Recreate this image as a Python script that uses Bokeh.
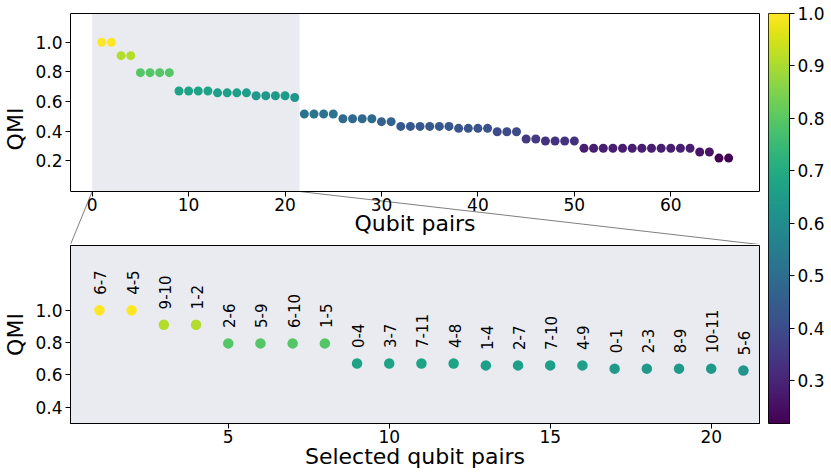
import numpy as np
from bokeh.plotting import figure
from bokeh.models import (Range1d, FixedTicker, LinearColorMapper, BoxAnnotation,
                          ColumnDataSource, LinearAxis, PrintfTickFormatter)
from bokeh.transform import transform
from bokeh.core.properties import value
from bokeh.palettes import Viridis256
from bokeh.layouts import row, column
from bokeh.embed import file_html
from bokeh.resources import INLINE

# ---------------- data ----------------
qmi = [1.0, 1.0, 0.91, 0.91, 0.795, 0.795, 0.795, 0.795,
       0.671, 0.671, 0.671, 0.671, 0.659, 0.659, 0.659, 0.659,
       0.639, 0.639, 0.639, 0.639, 0.627,
       0.516, 0.516, 0.516, 0.516, 0.484, 0.484, 0.484, 0.484,
       0.464, 0.464,
       0.432, 0.432, 0.432, 0.432, 0.432, 0.432,
       0.419, 0.419, 0.419, 0.419,
       0.396, 0.396, 0.396,
       0.347, 0.347,
       0.333, 0.333, 0.333, 0.333,
       0.284, 0.284, 0.284, 0.284, 0.284, 0.284, 0.284, 0.284, 0.284, 0.284, 0.284, 0.284,
       0.259, 0.259,
       0.218, 0.218]
pair_labels = ["6-7", "4-5", "9-10", "1-2", "2-6", "5-9", "6-10", "1-5", "0-4", "3-7",
               "7-11", "4-8", "1-4", "2-7", "7-10", "4-9", "0-1", "2-3", "8-9", "10-11", "5-6"]
n_selected = 21
top_xticks = [0, 10, 20, 30, 40, 50, 60]
top_yticks = [0.2, 0.4, 0.6, 0.8, 1.0]
bot_xticks = [5, 10, 15, 20]
bot_yticks = [0.4, 0.6, 0.8, 1.0]
cb_ticks = [0.3, 0.4, 0.5, 0.6, 0.7, 0.8, 0.9, 1.0]

FONT = "DejaVu Sans"
SHADE = "#eaebf1"

idx = list(range(1, len(qmi) + 1))
low, high = min(qmi), max(qmi)
mapper = LinearColorMapper(palette=Viridis256, low=low, high=high)

src_all = ColumnDataSource(dict(x=idx, qmi=qmi))
sel_x = idx[:n_selected]
sel_q = qmi[:n_selected]
src_sel = ColumnDataSource(dict(x=sel_x, qmi=sel_q, lab=pair_labels,
                                ly=[q + 0.095 for q in sel_q]))


def style_axis(ax):
    ax.major_label_text_font = FONT
    ax.major_label_text_font_size = "17px"
    ax.major_label_text_color = "black"
    ax.axis_label_text_font = FONT
    ax.axis_label_text_font_size = "22px"
    ax.axis_label_text_font_style = "normal"
    ax.axis_label_text_color = "black"
    ax.major_tick_out = 5
    ax.major_tick_in = 0
    ax.minor_tick_line_color = None
    ax.axis_line_color = "black"
    ax.major_tick_line_color = "black"


def bare_axis(ax):
    ax.ticker = FixedTicker(ticks=[])
    ax.major_tick_out = 0
    ax.major_tick_in = 0
    ax.minor_tick_line_color = None
    ax.major_label_standoff = 0
    ax.axis_label_standoff = 0
    ax.axis_line_color = "black"


# ---------------- top panel ----------------
# visible panel: 178 px high; the frame continues 53 px below it so that the
# connector lines to the zoom panel can be drawn
PANEL_H, BELOW = 178, 53
y0, y1 = -0.008, 1.195
y_frame_start = y0 - (y1 - y0) * BELOW / PANEL_H
xr_top = Range1d(-2.25, 69.2)
top = figure(width=760, height=13 + PANEL_H + BELOW, x_range=xr_top,
             y_range=Range1d(y_frame_start, y1), output_backend="svg",
             toolbar_location=None, min_border_left=68, min_border_right=1,
             min_border_top=13, min_border_bottom=0)
top.grid.visible = False
top.outline_line_color = None
top.border_fill_color = "white"
style_axis(top.xaxis[0])
style_axis(top.yaxis[0])
top.xaxis.fixed_location = y0
top.xaxis.axis_label = "Qubit pairs"
top.xaxis.ticker = FixedTicker(ticks=top_xticks)
top.xaxis.major_label_standoff = 1
top.xaxis.axis_label_standoff = -3
top.yaxis.axis_label = "QMI"
top.yaxis.ticker = FixedTicker(ticks=top_yticks)
top.yaxis.formatter = PrintfTickFormatter(format="%.1f")
top.yaxis.bounds = (y0, y1)
top.yaxis.major_label_standoff = 3
top.yaxis.axis_label_standoff = 4
ax_r = LinearAxis(bounds=(y0, y1))
bare_axis(ax_r)
top.add_layout(ax_r, "right")
ax_t = LinearAxis()
bare_axis(ax_t)
top.add_layout(ax_t, "above")

top.add_layout(BoxAnnotation(left=0, right=n_selected + 0.5, bottom=y0,
                             fill_color=SHADE, fill_alpha=1.0, line_color=None,
                             level="underlay"))
top.scatter("x", "qmi", source=src_all, size=9, line_color=None,
            fill_color=transform("qmi", mapper))
# connector lines: shaded span corners -> zoom panel corners
top.segment(x0=[0, n_selected + 0.5], y0=[y0, y0],
            x1=[xr_top.start, xr_top.end], y1=[y_frame_start, y_frame_start],
            line_color="#7f7f7f", line_width=1)

# ---------------- bottom (zoom) panel ----------------
bot = figure(width=760, height=232, x_range=Range1d(0.1, 21.5),
             y_range=Range1d(0.3, 1.4), output_backend="svg",
             toolbar_location=None, min_border_left=68, min_border_right=1,
             min_border_top=1, min_border_bottom=53)
bot.grid.visible = False
bot.outline_line_color = "black"
bot.border_fill_color = "white"
bot.background_fill_color = SHADE
style_axis(bot.xaxis[0])
style_axis(bot.yaxis[0])
bot.xaxis.axis_label = "Selected qubit pairs"
bot.yaxis.axis_label = "QMI"
bot.xaxis.ticker = FixedTicker(ticks=bot_xticks)
bot.yaxis.ticker = FixedTicker(ticks=bot_yticks)
bot.yaxis.formatter = PrintfTickFormatter(format="%.1f")
bot.xaxis.major_label_standoff = 1
bot.xaxis.axis_label_standoff = -2
bot.yaxis.major_label_standoff = 3
bot.yaxis.axis_label_standoff = 4
bot.scatter("x", "qmi", source=src_sel, size=10.5, line_color=None,
            fill_color=transform("qmi", mapper))
bot.text("x", "ly", text="lab", source=src_sel, angle=np.pi / 2,
         text_align="left", text_baseline="middle", text_font=value(FONT),
         text_font_size="15px", text_color="black", x_offset=1)

# ---------------- colorbar ----------------
cb = figure(width=71, height=476, x_range=Range1d(0, 1), y_range=Range1d(low, high),
            output_backend="svg", toolbar_location=None, x_axis_location=None,
            y_axis_location="right", min_border_left=8, min_border_right=42,
            min_border_top=13, min_border_bottom=53)
cb.grid.visible = False
cb.outline_line_color = "black"
ya = cb.yaxis[0]
ya.ticker = FixedTicker(ticks=cb_ticks)
ya.formatter = PrintfTickFormatter(format="%.1f")
ya.major_label_text_font = FONT
ya.major_label_text_font_size = "17px"
ya.major_label_text_color = "black"
ya.major_tick_out = 5
ya.major_tick_in = 0
ya.minor_tick_line_color = None
ya.axis_line_color = "black"
ya.major_label_standoff = 3
grad = np.linspace(low, high, 256).reshape(-1, 1)
cb.image(image=[grad], x=0, y=low, dw=1, dh=high - low, color_mapper=mapper)

layout = row(column(top, bot), cb)
open("out.html", "w").write(file_html(layout, INLINE))
